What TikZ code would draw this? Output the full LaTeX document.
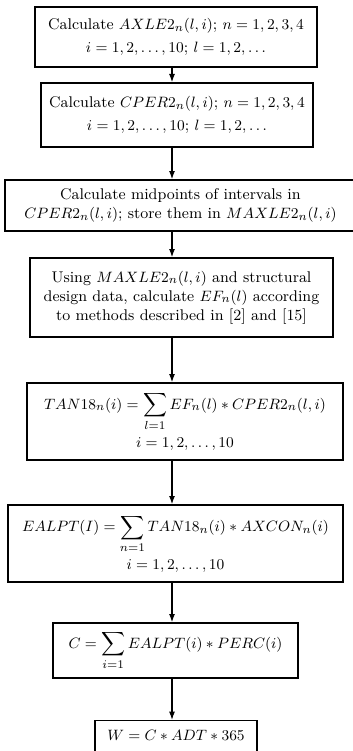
\documentclass[tikz,border=0pt]{standalone}
\usetikzlibrary{calc,arrows.meta}
\tikzset{
  stepbox/.style={draw, line width=0.8pt, align=center, inner sep=2pt,
    font=\fontsize{9.3}{11.5}\selectfont},
  arrow/.style={-{Latex[length=5pt,width=3.6pt]}, line width=0.8pt},
}
\begin{document}
\begin{tikzpicture}[x=0.6pt,y=-0.6pt]
  \useasboundingbox (0,0) rectangle (353,751);
  \clip (0,0) rectangle (353,751);

  % Steps
  \node[stepbox, minimum width=169.2pt, minimum height=36pt] (axle) at (176,37)
    {Calculate $AXLE2_n(l,i)$; $n=1,2,3,4$\\[2pt] $i=1,2,\ldots,10$; $l=1,2,\ldots$};
  \node[stepbox, minimum width=163.2pt, minimum height=38.4pt] (cper) at (177,115)
    {Calculate $CPER2_n(l,i)$; $n=1,2,3,4$\\[2pt] $i=1,2,\ldots,10$; $l=1,2,\ldots$};
  \node[stepbox, minimum width=210.6pt, minimum height=30.6pt] (mid) at (180.5,205.5)
    {Calculate midpoints of intervals in\\ $CPER2_n(l,i)$; store them in $MAXLE2_n(l,i)$};
  \node[stepbox, minimum width=181.8pt, minimum height=47.4pt] (ef) at (181.5,297.5)
    {Using $MAXLE2_n(l,i)$ and structural\\ design data, calculate $EF_n(l)$ according\\ to methods described in [2] and [15]};
  \node[stepbox, minimum width=189.6pt, minimum height=46.2pt] (tan) at (185,421.5)
    {$\displaystyle TAN18_n(i)=\sum_{l=1} EF_n(l)*CPER2_n(l,i)$\\[3pt] $i=1,2,\ldots,10$};
  \node[stepbox, minimum width=201pt, minimum height=46.2pt] (ealpt) at (175.5,543.5)
    {$\displaystyle EALPT(I)=\sum_{n=1} TAN18_n(i)*AXCON_n(i)$\\[3pt] $i=1,2,\ldots,10$};
  \node[stepbox, minimum width=147pt, minimum height=33pt] (c) at (175.5,650.5)
    {$\displaystyle C=\sum_{i=1} EALPT(i)*PERC(i)$};
  \node[stepbox, minimum width=97.2pt, text height=7pt, text depth=30pt, inner ysep=5pt, anchor=north] (w) at (176,720)
    {$W=C*ADT*365$};

  % Connections
  \coordinate (spine) at (172,0);
  \draw[arrow] (axle.south -| spine) -- (cper.north -| spine);
  \draw[arrow] (cper.south -| spine) -- (mid.north -| spine);
  \draw[arrow] (mid.south -| spine) -- (ef.north -| spine);
  \draw[arrow] (ef.south -| spine) -- (tan.north -| spine);
  \draw[arrow] (tan.south -| spine) -- (ealpt.north -| spine);
  \draw[arrow] (ealpt.south -| spine) -- (c.north -| spine);
  \draw[arrow] (c.south -| spine) -- (w.north -| spine);
\end{tikzpicture}
\end{document}
